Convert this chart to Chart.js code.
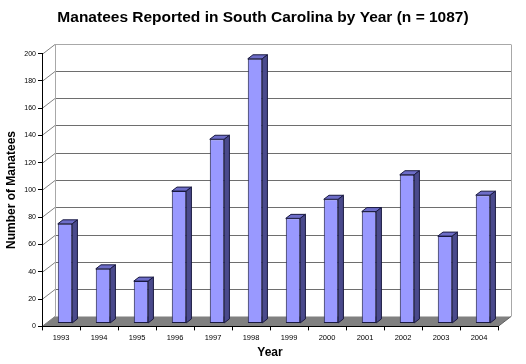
<!DOCTYPE html>
<html>
<head>
<meta charset="utf-8">
<script src="https://cdn.jsdelivr.net/npm/chart.js@4/dist/chart.umd.min.js"></script>
<style>
  html, body { margin: 0; padding: 0; background: #ffffff; }
  #wrap { width: 526px; height: 364px; }
</style>
</head>
<body>
<div id="wrap"><canvas id="c" width="526" height="364"></canvas></div>
<script>
// ---- data ----
const years = ['1993','1994','1995','1996','1997','1998','1999','2000','2001','2002','2003','2004'];
const manatees = [73, 40, 31, 97, 135, 194, 77, 91, 82, 109, 64, 94];
const yTicks = [0, 20, 40, 60, 80, 100, 120, 140, 160, 180, 200];

// 3D depth offsets (pixels)
const DX = 13, DY = -10;
const FRONT = 0.3, DEPTH = 0.4;

const threeD = {
  id: 'threeD',
  beforeDraw(chart) {
    const ctx = chart.ctx;
    const a = chart.chartArea;
    const ys = chart.scales.y;
    const L = a.left, R = a.right, T = a.top, B = a.bottom;
    ctx.save();
    ctx.fillStyle = '#ffffff';
    ctx.fillRect(0, 0, chart.width, chart.height);
    ctx.lineWidth = 1;
    yTicks.forEach(v => {
      const y = Math.round(ys.getPixelForValue(v)) + 0.5;
      ctx.strokeStyle = '#808080';
      ctx.beginPath();
      ctx.moveTo(L, y);
      ctx.lineTo(L + DX, y + DY);
      ctx.stroke();
      if (v > 0) {
        ctx.strokeStyle = v === 200 ? '#a8a8a8' : '#6e6e6e';
        ctx.beginPath();
        ctx.moveTo(L + DX, y + DY);
        ctx.lineTo(R + DX, y + DY);
        ctx.stroke();
      }
    });
    ctx.strokeStyle = '#a8a8a8';
    ctx.beginPath();
    ctx.moveTo(L + DX + 0.5, Math.round(T) + DY + 0.5);
    ctx.lineTo(L + DX + 0.5, Math.round(B) + DY + 0.5);
    ctx.moveTo(R + DX + 0.5, Math.round(T) + DY + 0.5);
    ctx.lineTo(R + DX + 0.5, Math.round(B) + DY + 0.5);
    ctx.stroke();
    const b = Math.round(B) + 0.5;
    ctx.fillStyle = '#808080';
    ctx.beginPath();
    ctx.moveTo(L, b);
    ctx.lineTo(R, b);
    ctx.lineTo(R + DX, b + DY);
    ctx.lineTo(L + DX, b + DY);
    ctx.closePath();
    ctx.fill();
    ctx.strokeStyle = '#606060';
    ctx.beginPath();
    ctx.moveTo(R, b);
    ctx.lineTo(R + DX, b + DY);
    ctx.stroke();
    ctx.restore();
  },
  beforeDatasetsDraw(chart) {
    chart.ctx.save();
    chart.ctx.translate(Math.round(DX * FRONT), Math.round(DY * FRONT));
  },
  afterDatasetsDraw(chart) {
    const ctx = chart.ctx;
    const bdx = DX * DEPTH, bdy = DY * DEPTH;
    const meta = chart.getDatasetMeta(0);
    meta.data.forEach(el => {
      const p = el.getProps(['x', 'y', 'base', 'width'], true);
      const l = p.x - p.width / 2, r = p.x + p.width / 2;
      ctx.lineWidth = 1;
      ctx.strokeStyle = '#1a1a40';
      ctx.fillStyle = '#6d6dc8';
      ctx.beginPath();
      ctx.moveTo(l, p.y);
      ctx.lineTo(r, p.y);
      ctx.lineTo(r + bdx, p.y + bdy);
      ctx.lineTo(l + bdx, p.y + bdy);
      ctx.closePath();
      ctx.fill();
      ctx.stroke();
      ctx.fillStyle = '#4a4a8c';
      ctx.beginPath();
      ctx.moveTo(r, p.y);
      ctx.lineTo(r + bdx, p.y + bdy);
      ctx.lineTo(r + bdx, p.base + bdy);
      ctx.lineTo(r, p.base);
      ctx.closePath();
      ctx.fill();
      ctx.stroke();
    });
    ctx.restore();
  }
};

new Chart(document.getElementById('c'), {
  type: 'bar',
  data: {
    labels: years,
    datasets: [{
      label: 'Manatees',
      data: manatees,
      backgroundColor: '#9999ff',
      borderColor: '#1a1a40',
      borderWidth: 1,
      borderSkipped: false,
      categoryPercentage: 1.0,
      barPercentage: 0.38
    }]
  },
  options: {
    responsive: false,
    animation: false,
    devicePixelRatio: 1,
    layout: { padding: { left: 0, right: 0, top: 0, bottom: 0 } },
    plugins: {
      legend: { display: false },
      tooltip: { enabled: false },
      title: {
        display: true,
        text: 'Manatees Reported in South Carolina by Year (n = 1087)',
        color: '#000000',
        font: { family: 'Liberation Sans, Arial, sans-serif', size: 15.5, weight: 'bold', lineHeight: 1.2 },
        padding: { top: 8, bottom: 27 }
      }
    },
    scales: {
      x: {
        grid: { offset: true, drawOnChartArea: false, drawTicks: true, tickLength: 4, color: '#000000' },
        border: { display: true, color: '#000000', width: 1 },
        ticks: {
          color: '#000000',
          font: { family: 'Liberation Sans, Arial, sans-serif', size: 7.5 },
          padding: 3,
          maxRotation: 0,
          autoSkip: false
        },
        title: {
          display: true,
          text: 'Year',
          color: '#000000',
          font: { family: 'Liberation Sans, Arial, sans-serif', size: 12, weight: 'bold' },
          padding: { top: 0, bottom: 4 }
        },
        afterFit(scale) { scale.height = 37.6; }
      },
      y: {
        min: 0,
        max: 200,
        afterBuildTicks(scale) { scale.ticks = yTicks.map(v => ({ value: v })); },
        grid: { drawOnChartArea: false, drawTicks: true, tickLength: 4, color: '#000000' },
        border: { display: true, color: '#000000', width: 1 },
        ticks: {
          color: '#000000',
          font: { family: 'Liberation Sans, Arial, sans-serif', size: 7 },
          padding: 2
        },
        title: {
          display: true,
          text: 'Number of Manatees',
          color: '#000000',
          font: { family: 'Liberation Sans, Arial, sans-serif', size: 12, weight: 'bold' },
          padding: { top: 4, bottom: 0 }
        },
        afterFit(scale) { scale.width = 42; }
      },
      spacer: {
        type: 'linear',
        position: 'right',
        display: true,
        grid: { display: false, drawTicks: false },
        border: { display: false },
        ticks: { display: false },
        afterFit(scale) { scale.width = 28; }
      }
    }
  },
  plugins: [threeD]
});
</script>
</body>
</html>
